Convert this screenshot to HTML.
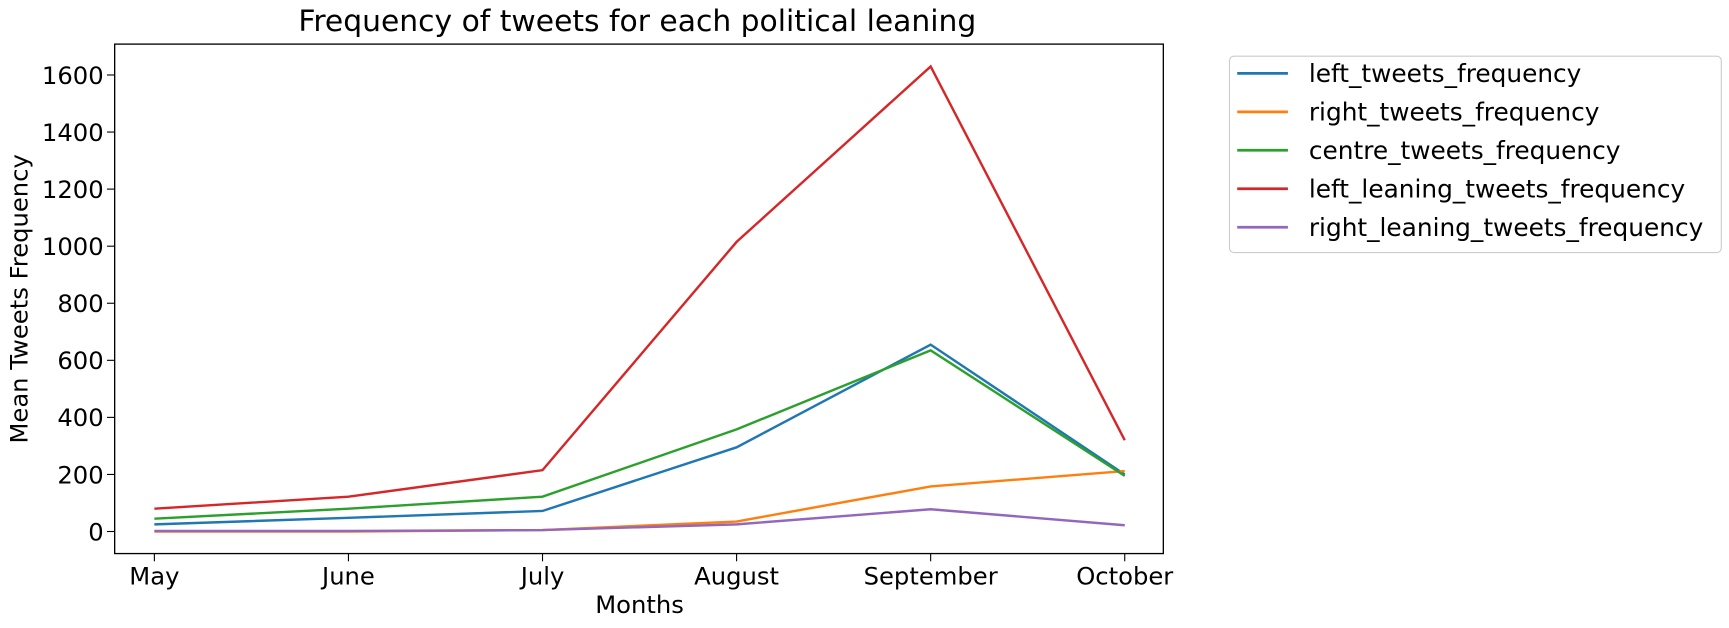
<!DOCTYPE html>
<html><head><meta charset="utf-8"><style>
body{margin:0;background:#fff;overflow:hidden;}
svg{display:block;}
svg text{font-family:"DejaVu Sans","Liberation Sans",sans-serif;fill:#000;}
</style></head><body>
<svg id="chart" width="1729" height="628" viewBox="0 0 1568 569.5" preserveAspectRatio="none" xmlns="http://www.w3.org/2000/svg">
<text x="578" y="28" font-size="27" text-anchor="middle">Frequency of tweets for each political leaning</text>
<rect x="104" y="40" width="951" height="462" fill="none" stroke="#000" stroke-width="1.2"/>
<g id="yticks"></g><g id="xticks"></g><g id="lines"></g>
<text x="580" y="556" font-size="22" text-anchor="middle">Months</text>
<text transform="translate(25,271) rotate(-90)" font-size="22" text-anchor="middle">Mean Tweets Frequency</text>
<g id="legend"><rect x="1115" y="51" width="446" height="178" rx="4" fill="#fff" stroke="#ccc"/></g>
</svg>
<script>
const months=["May","June","July","August","September","October"];
const seriesNames=["left_tweets_frequency","right_tweets_frequency","centre_tweets_frequency","left_leaning_tweets_frequency","right_leaning_tweets_frequency"];
const leftVals=[25,48,72,295,655,200];
const rightVals=[0,0,5,35,158,212];
const centreVals=[45,80,122,358,635,195];
const leftLeanVals=[80,122,215,1015,1630,320];
const rightLeanVals=[2,2,5,25,78,22];
const yTicks=[0,200,400,600,800,1000,1200,1400,1600];
const colors=["#1f77b4","#ff7f0e","#2ca02c","#d62728","#9467bd"];
const all=[leftVals,rightVals,centreVals,leftLeanVals,rightLeanVals];
const NS="http://www.w3.org/2000/svg";
const xS=i=>140+i*(880/(months.length-1));
const yS=v=>482-v*0.25875;
function mk(t,a,p){const e=document.createElementNS(NS,t);for(const k in a)e.setAttribute(k,a[k]);p.appendChild(e);return e;}
const yt=document.getElementById('yticks');
yTicks.forEach(v=>{
 const l=mk('line',{x1:97,x2:104,y1:yS(v),y2:yS(v),stroke:'#000'},yt);
 
 
 const t=mk('text',{x:94,y:yS(v)+8,'font-size':22,'text-anchor':'end'},yt);t.textContent=v;
 
 
});
const xt=document.getElementById('xticks');
months.forEach((m,i)=>{
 const l=mk('line',{x1:xS(i),x2:xS(i),y1:502,y2:509,stroke:'#000'},xt);
 
 
 const t=mk('text',{x:xS(i),y:530,'font-size':22,'text-anchor':'middle'},xt);t.textContent=m;
 
 
});
const lg=document.getElementById('lines');
all.forEach((s,k)=>{
 const p=mk('polyline',{points:s.map((v,i)=>xS(i)+','+yS(v)).join(' '),fill:'none',stroke:colors[k],'stroke-width':2.2},lg);
 
 
});
const leg=document.getElementById('legend');
seriesNames.forEach((n,k)=>{
 const y=66.5+k*34.9;
 const l=mk('line',{x1:1122,x2:1168,y1:y,y2:y,stroke:colors[k],'stroke-width':2.5},leg);
 
 
 const t=mk('text',{x:1187,y:y+8,'font-size':22.5},leg);t.textContent=n;
 
 
});
</script>
</body></html>
